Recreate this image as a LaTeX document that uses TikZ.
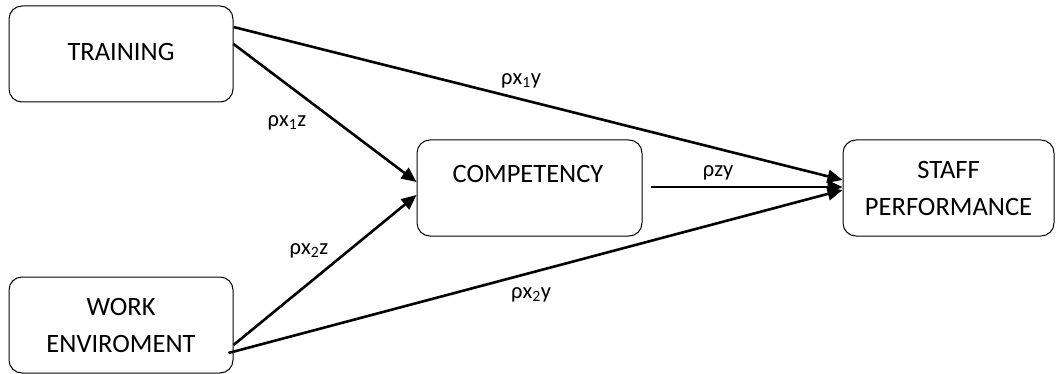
\documentclass[tikz,border=0pt]{standalone}
\usepackage{fontspec}
\setmainfont{Carlito}
\usetikzlibrary{arrows.meta}
\begin{document}
\begin{tikzpicture}[x=1pt,y=-1pt,
  box/.style={draw, line width=1pt, rounded corners=13pt, inner sep=0pt, align=center,
    font=\fontsize{26.5}{37}\selectfont},
  lab/.style={font=\fontsize{22.5}{26}\selectfont, inner sep=0pt},
  link/.style={line width=2.6pt, -{Triangle[length=15pt,width=13pt]}}]
\useasboundingbox (0,0) rectangle (1056,374);
\node[box, minimum width=224pt, minimum height=96pt] (train) at (121,54) {\raisebox{5pt}{TRAINING}};
\node[box, minimum width=224pt, minimum height=96pt] (work) at (121,325) {WORK\\ENVIROMENT};
\node[box, minimum width=225pt, minimum height=96pt] (comp) at (529.5,188) {};
\node[font=\fontsize{26.5}{30}\selectfont] (comptext) at (528,174) {COMPETENCY};
\node[box, minimum width=211pt, minimum height=96pt] (staff) at (948.5,188) {STAFF\\PERFORMANCE};
\draw[link] ([yshift=27pt]train.east) -- ([yshift=8pt]staff.west);
\draw[link] ([yshift=10pt]train.east) -- ([yshift=6pt]comp.west);
\draw[link] ([yshift=-20pt]work.east) -- ([yshift=-7pt]comp.west);
\draw[link] ([xshift=-5pt,yshift=-28pt]work.east) -- ([yshift=-2pt]staff.west);
\draw[link] ([xshift=8pt,yshift=1pt]comp.east) -- ([yshift=1pt]staff.west);
\node[lab] (l1) at (521,81) {ρx\textsubscript{1}y};
\node[lab] (l2) at (287,123) {ρx\textsubscript{1}z};
\node[lab] (l3) at (718,173) {ρzy};
\node[lab] (l4) at (309,251) {ρx\textsubscript{2}z};
\node[lab] (l5) at (531,295) {ρx\textsubscript{2}y};
\end{tikzpicture}
\end{document}
